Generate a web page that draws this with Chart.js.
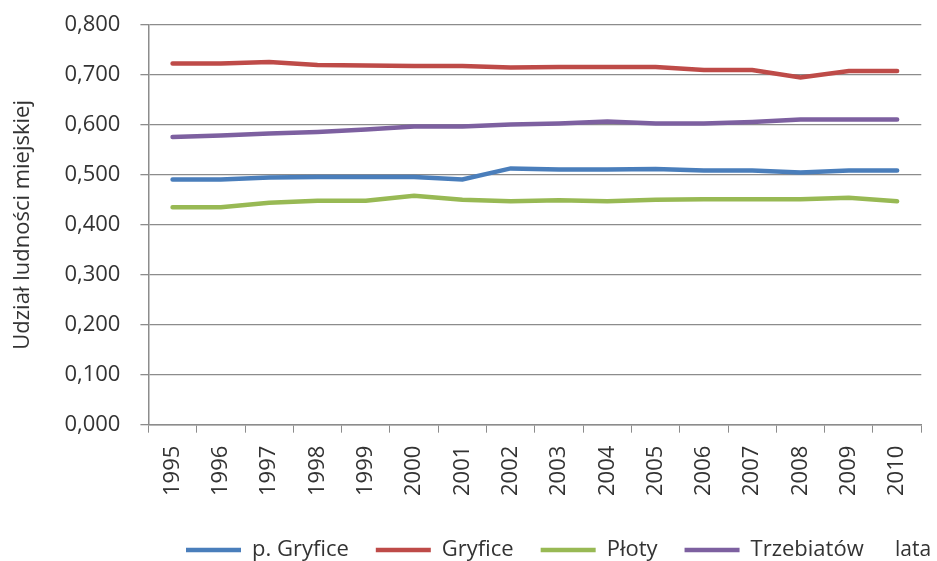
<!DOCTYPE html>
<html><head><meta charset="utf-8">
<script src="https://cdn.jsdelivr.net/npm/chart.js@4/dist/chart.umd.min.js"></script>
<style>html,body{margin:0;padding:0;background:#fff}#wrap{width:937px;height:561px}</style>
</head><body><div id="wrap"><canvas id="c" width="937" height="561"></canvas></div>
<script>
const years = ['1995','1996','1997','1998','1999','2000','2001','2002','2003','2004','2005','2006','2007','2008','2009','2010'];
const pGryfice   = [0.491,0.491,0.495,0.496,0.496,0.496,0.491,0.513,0.511,0.511,0.512,0.509,0.509,0.505,0.509,0.509];
const gryfice    = [0.723,0.723,0.726,0.720,0.719,0.718,0.718,0.715,0.716,0.716,0.716,0.710,0.710,0.695,0.708,0.708];
const ploty      = [0.435,0.435,0.444,0.448,0.448,0.458,0.450,0.447,0.449,0.447,0.450,0.451,0.451,0.451,0.454,0.447];
const trzebiatow = [0.576,0.579,0.583,0.586,0.591,0.597,0.597,0.601,0.603,0.607,0.603,0.603,0.606,0.611,0.611,0.611];
const seriesNames = ['p. Gryfice','Gryfice','Płoty','Trzebiatów'];
const yTicks = [0,0.1,0.2,0.3,0.4,0.5,0.6,0.7,0.8];
const yTitle = 'Udział ludności miejskiej';
const xTitle = 'lata';

const colors = ['#4a7ebb','#be4b48','#98b954','#7d60a0'];
const FONT = '"Open Sans", sans-serif';
const mk = (i, data) => ({label: seriesNames[i], data, borderColor: colors[i], backgroundColor: colors[i],
  borderWidth: 4.5, pointRadius: 0, tension: 0, pointStyle: 'line', borderCapStyle: 'round'});

const lataPlugin = {
  id: 'lata',
  afterLayout(chart) {
    const lg = chart.legend;
    if (lg) { lg.left -= 10; lg.right -= 10; }
  },
  afterDraw(chart) {
    const ctx = chart.ctx, lg = chart.legend;
    const hb = lg.legendHitBoxes && lg.legendHitBoxes[0];
    const y = hb ? hb.top + hb.height / 2 : lg.top + lg.height / 2;
    ctx.save();
    ctx.font = '21px ' + FONT;
    ctx.fillStyle = '#333';
    ctx.textBaseline = 'middle';
    ctx.textAlign = 'left';
    ctx.fillText(xTitle, 895, y);
    ctx.restore();
  }
};

new Chart(document.getElementById('c'), {
  type: 'line',
  data: { labels: years, datasets: [mk(0,pGryfice), mk(1,gryfice), mk(2,ploty), mk(3,trzebiatow)] },
  plugins: [lataPlugin],
  options: {
    responsive: false, animation: false, devicePixelRatio: 1,
    layout: { padding: { top: 0, right: 15, bottom: -10, left: 10 } },
    plugins: {
      tooltip: { enabled: false },
      legend: {
        position: 'bottom', fullSize: false,
        labels: { usePointStyle: true, pointStyleWidth: 55, padding: 27, color: '#333',
          font: { family: FONT, size: 22 } }
      }
    },
    scales: {
      x: {
        offset: true,
        afterFit(scale) { scale.height += 3; },
        grid: { display: true, drawOnChartArea: false, drawTicks: true, tickLength: 8, color: '#8c8c8c', offset: true },
        border: { color: '#8c8c8c', width: 1.5 },
        ticks: { minRotation: 90, maxRotation: 90, autoSkip: false, padding: 13, color: '#333',
          font: { family: FONT, size: 22 } }
      },
      y: {
        min: 0, max: 0.8,
        afterBuildTicks(axis) { axis.ticks = yTicks.map(v => ({value: v})); },
        afterFit(scale) { scale.paddingTop = 25; scale.paddingBottom = 13; },
        grid: { color: '#8c8c8c', lineWidth: 1.3, tickLength: 8 },
        border: { color: '#8c8c8c', width: 1.5 },
        ticks: { padding: 20, color: '#333', font: { family: FONT, size: 22 },
          callback: v => v.toFixed(3).replace('.', ',') },
        title: { display: true, text: yTitle, color: '#333', font: { family: FONT, size: 22 }, padding: { top: 0, bottom: 8 } }
      }
    }
  }
});
</script></body></html>
